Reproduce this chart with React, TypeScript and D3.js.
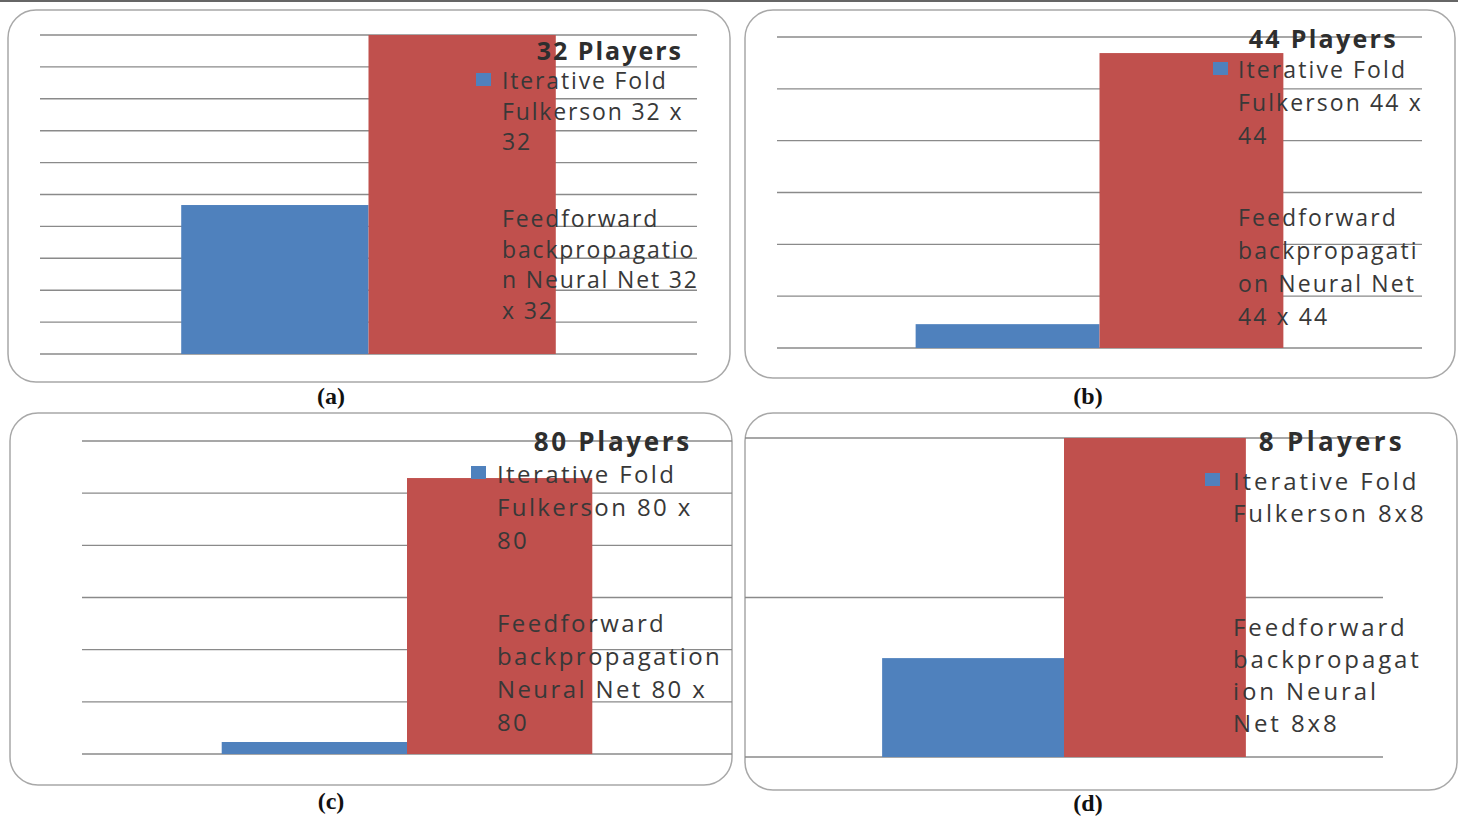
import React from "react";
import * as d3 from "d3";

// ---------- data ----------
const panelTitles = ["32 Players", "44 Players", "80 Players", "8 Players"];
const captions = ["(a)", "(b)", "(c)", "(d)"];
const seriesKeys = ["iterative", "neural"];
const iterativeValues = [4.67, 0.46, 0.23, 0.62];
const neuralValues = [10, 5.69, 5.29, 2];
const axisMax = [10, 6, 6, 2];
const iterativeLabels = [
  ["Iterative Fold", "Fulkerson 32 x", "32"],
  ["Iterative Fold", "Fulkerson 44 x", "44"],
  ["Iterative Fold", "Fulkerson 80 x", "80"],
  ["Iterative Fold", "Fulkerson 8x8"],
];
const neuralLabels = [
  ["Feedforward", "backpropagatio", "n Neural Net 32", "x 32"],
  ["Feedforward", "backpropagati", "on Neural Net", "44 x 44"],
  ["Feedforward", "backpropagation", "Neural Net 80 x", "80"],
  ["Feedforward", "backpropagat", "ion Neural", "Net 8x8"],
];

// ---------- layout ----------
const layouts = [
  { bx: 8, by: 10, bw: 722, bh: 372, l: 40, r: 697, top: 35, bottom: 354, tx: 683, ty: 50, tfs: 25, tls: 2.0, mx: 476, lx: 502, y1: 80, lh: 30.5, y2: 218, fs: 23, ls: 1.85, cx: 331, cy: 404 },
  { bx: 745, by: 10, bw: 710, bh: 368, l: 777, r: 1422, top: 37, bottom: 348, tx: 1398, ty: 38, tfs: 25, tls: 2.3, mx: 1213, lx: 1238, y1: 69, lh: 33, y2: 217, fs: 23, ls: 2.1, cx: 1088, cy: 404 },
  { bx: 10, by: 413, bw: 722, bh: 372, l: 82, r: 732, top: 441, bottom: 754, tx: 692, ty: 441, tfs: 26, tls: 2.7, mx: 471, lx: 497, y1: 473, lh: 33, y2: 622, fs: 24, ls: 2.4, cx: 331, cy: 809 },
  { bx: 745, by: 413, bw: 712, bh: 377, l: 745, r: 1383, top: 438, bottom: 757, tx: 1405, ty: 441, tfs: 26, tls: 3.3, mx: 1205, lx: 1233, y1: 480, lh: 32, y2: 626, fs: 24, ls: 2.9, cx: 1088, cy: 811 },
];

const COLORS: Record<string, string> = { iterative: "#4f81bd", neural: "#c0504d" };
const TEXT = "#383838";
const FONT = "'Open Sans', 'Noto Sans', sans-serif";

function Panel({ i }: { i: number }) {
  const L = layouts[i];
  const y = d3.scaleLinear().domain([0, axisMax[i]]).range([L.bottom, L.top]);
  const x0 = d3.scaleBand<string>().domain(["c"]).range([L.l, L.r]).paddingInner(0).paddingOuter(0.377);
  const x1 = d3.scaleBand<string>().domain(seriesKeys).range([0, x0.bandwidth()]).padding(0);
  const vals: Record<string, number> = { iterative: iterativeValues[i], neural: neuralValues[i] };
  const ticks = y.ticks(axisMax[i]);
  const entries = [
    { key: "iterative", lines: iterativeLabels[i], y: L.y1 },
    { key: "neural", lines: neuralLabels[i], y: L.y2 },
  ];
  return (
    <g>
      <rect x={L.bx} y={L.by} width={L.bw} height={L.bh} rx={28} ry={28} fill="#fff" stroke="#a8a8a8" strokeWidth={1.5} />
      {ticks.map((t) => (
        <line key={t} x1={L.l} x2={L.r} y1={y(t)} y2={y(t)} stroke="#8a8a8a" strokeWidth={1.4} />
      ))}
      {seriesKeys.map((k) => (
        <rect
          key={k}
          x={(x0("c") as number) + (x1(k) as number)}
          y={y(vals[k])}
          width={x1.bandwidth()}
          height={y(0) - y(vals[k])}
          fill={COLORS[k]}
        />
      ))}
      {entries.map((e) => (
        <g key={e.key}>
          <rect x={L.mx} y={e.y - 7} width={15} height={13} fill={COLORS[e.key]} />
          {e.lines.map((line, j) => (
            <text
              key={j}
              x={L.lx}
              y={e.y + j * L.lh}
              dominantBaseline="central"
              fontFamily={FONT}
              fontWeight={500}
              fontSize={L.fs}
              letterSpacing={L.ls}
              fill={TEXT}
            >
              {line}
            </text>
          ))}
        </g>
      ))}
      <text
        x={L.tx}
        y={L.ty}
        textAnchor="end"
        dominantBaseline="central"
        fontFamily={FONT}
        fontWeight="bold"
        fontSize={L.tfs}
        letterSpacing={L.tls}
        fill="#2e2e2e"
      >
        {panelTitles[i]}
      </text>
      <text
        x={L.cx}
        y={L.cy}
        textAnchor="middle"
        fontFamily="'Liberation Serif', 'DejaVu Serif', serif"
        fontWeight="bold"
        fontSize={24}
        fill="#111"
      >
        {captions[i]}
      </text>
    </g>
  );
}

export default function App() {
  return (
    <svg
      width={1458}
      height={817}
      style={{ position: "absolute", left: 0, top: 0, background: "#fff" }}
    >
      <rect x={0} y={0} width={1458} height={817} fill="#fff" />
      <line x1={0} x2={1458} y1={1} y2={1} stroke="#666" strokeWidth={2} />
      {panelTitles.map((_, i) => (
        <Panel key={i} i={i} />
      ))}
    </svg>
  );
}
